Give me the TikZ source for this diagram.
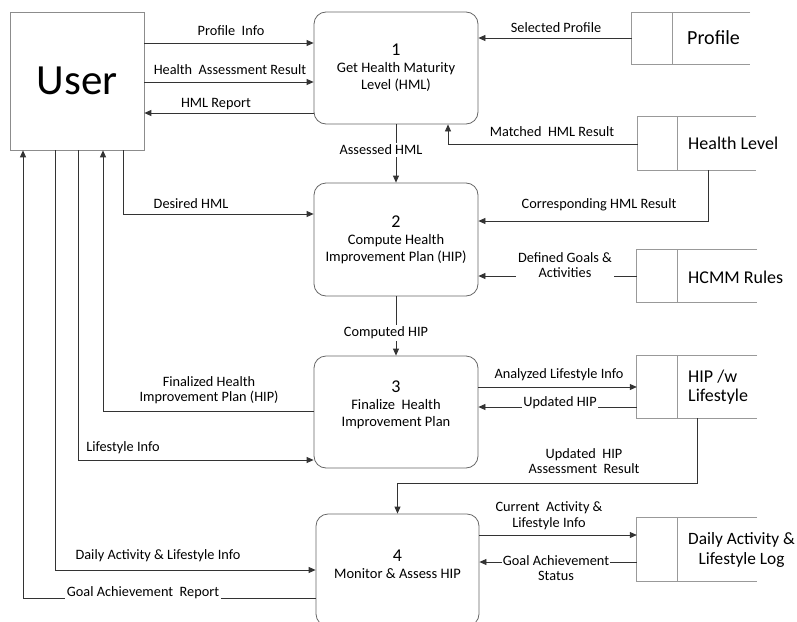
\documentclass[tikz,border=0pt]{standalone}
\usepackage{fontspec}
\setmainfont{Carlito}
\usetikzlibrary{arrows.meta}
\newcommand\pnumfont{\fontsize{18}{21}\selectfont}
\begin{document}
\begin{tikzpicture}[x=1pt,y=-1pt,
 proc/.style={draw=black!60, line width=0.8pt, rounded corners=12pt, minimum width=164pt, minimum height=112pt, inner sep=0pt},
 ent/.style={draw=black!45, line width=0.7pt, minimum width=134pt, minimum height=138pt, inner sep=0pt, font=\fontsize{43}{46}\selectfont},
 store/.style={inner sep=0pt, minimum width=120pt},
 sline/.style={draw=black!40, line width=0.7pt},
 stext/.style={font=\fontsize{18}{21}\selectfont, inner sep=0pt, anchor=west},
 ptext/.style={font=\fontsize{14.5}{17}\selectfont, align=center, inner sep=0pt},
 arr/.style={draw=black!80, line width=0.8pt, -{Triangle[length=7pt,width=6pt]}},
 lbl/.style={font=\fontsize{14.3}{15.5}\selectfont, inner sep=1pt, align=center},
 lblw/.style={lbl, fill=white, inner sep=2pt},
]
\useasboundingbox (0,0) rectangle (797,621);

% entity
\node[ent] (user) at (77,81) {User};

% processes
\node[proc] (p1) at (396,68) {};
\node[proc, minimum height=113pt] (p2) at (396,239.5) {};
\node[proc] (p3) at (396,412) {};
\node[proc, minimum width=163pt] (p4) at (397.5,570) {};
\node[ptext] (t1) at (396,68) {{\pnumfont 1}\\Get Health Maturity\\Level (HML)};
\node[ptext] (t2) at (396,240) {{\pnumfont 2}\\Compute Health\\Improvement Plan (HIP)};
\node[ptext] (t3) at (396,405) {{\pnumfont 3}\\Finalize\ \ Health\\Improvement Plan};
\node[ptext] (t4) at (397.5,564) {{\pnumfont 4}\\Monitor \& Assess HIP};

% data stores
\node[store, minimum width=118pt, minimum height=51pt] (sprof) at (691,38.5) {};
\node[store, minimum width=118pt, minimum height=53pt] (shl) at (697,143.5) {};
\node[store, minimum height=52pt] (shcmm) at (697,276) {};
\node[store, minimum height=62pt] (shipw) at (697,387) {};
\node[store, minimum height=63pt] (sdaily) at (697,549.5) {};
\foreach \s/\d in {sprof/41,shl/40,shcmm/41,shipw/41,sdaily/41}{
  \draw[sline] (\s.north east) -- (\s.north west) -- (\s.south west) -- (\s.south east);
  \draw[sline] ([xshift=\d pt]\s.north west) -- ([xshift=\d pt]\s.south west);
}
\node[stext, font=\fontsize{20}{22}\selectfont] (tprof) at (687,38) {Profile};
\node[stext] (thl) at (688,143) {Health Level};
\node[stext] (thcmm) at (688,277) {HCMM Rules};
\node[stext, align=left, font=\fontsize{18}{19.5}\selectfont] (thipw) at (688,387) {HIP /w\\Lifestyle};
\node[stext, align=center, font=\fontsize{17.3}{19.5}\selectfont] (tdaily) at (688,550) {Daily Activity \&\\Lifestyle Log};

% flows around process 1
\draw[arr] (user.east |- 0,43) -- (p1.west |- 0,43);
\node[lbl] (l1) at (231,31) {Profile\ \ Info};
\draw[arr] (user.east |- 0,82) -- (p1.west |- 0,82);
\node[lbl] (l2) at (230,70) {Health\ \ Assessment Result};
\draw[arr] (p1.west |- 0,113) -- (user.east |- 0,113);
\node[lblw, inner sep=1pt] (l3) at (216,104) {HML Report};
\draw[arr] (sprof.west |- 0,38) -- (p1.east |- 0,38);
\node[lbl] (l4) at (556,28) {Selected Profile};
\draw[arr] (shl.west |- 0,144) -| ([xshift=52pt]p1.south);
\node[lbl] (l5) at (552,132) {Matched\ \ HML Result};

% process 1 -> 2
\draw[arr] (p1.south) -- (p2.north);
\node[lblw] (l6) at (381,150) {Assessed HML};
\draw[arr] ([xshift=11pt]shl.south) |- (p2.east |- 0,221);
\node[lbl] (l7) at (599,205) {Corresponding HML Result};
\draw[arr] ([xshift=46pt]user.south) |- (p2.west |- 0,214);
\node[lbl] (l8) at (191,204) {Desired HML};
\draw[arr] (shcmm.west) -- (p2.east |- shcmm.west);
\node[lblw] (l9) at (565,265) {Defined Goals \&\\Activities};

% process 2 -> 3
\draw[arr] (p2.south) -- (p3.north);
\node[lblw] (l10) at (386,333) {Computed HIP};
\draw[arr] (p3.west |- 0,411) -| ([xshift=26pt]user.south);
\node[lbl] (l11) at (209,390) {Finalized Health\\Improvement Plan (HIP)};
\draw[arr] ([xshift=1pt]user.south) |- (p3.west |- 0,460);
\node[lbl] (l12) at (123,448) {Lifestyle Info};
\draw[arr] (p3.east |- 0,387) -- (shipw.west |- 0,387);
\node[lbl] (l13) at (559,375) {Analyzed Lifestyle Info};
\draw[arr] (shipw.west |- 0,407) -- (p3.east |- 0,407);
\node[lblw, inner sep=1pt] (l14) at (560,403) {Updated HIP};

% process 3 -> 4
\draw[arr] (shipw.south) |- ([yshift=30pt]p4.north) -- (p4.north);
\node[lbl] (l15) at (584,461) {Updated\ \ HIP\\Assessment\ \ Result};
\draw[arr] ([xshift=-22pt]user.south) |- (p4.west |- 0,570);
\node[lbl] (l16) at (158,556) {Daily Activity \& Lifestyle Info};
\draw[arr] (p4.west |- 0,598) -| ([xshift=-54pt]user.south);
\node[lblw, inner sep=1.5pt] (l17) at (143,592.5) {Goal Achievement\ \ Report};
\draw[arr] (p4.east |- 0,535) -- (sdaily.west |- 0,535);
\node[lbl] (l18) at (549,515.5) {Current\ \ Activity \&\\Lifestyle Info};
\draw[arr] (sdaily.west |- 0,562) -- (p4.east |- 0,562);
\node[lblw, inner sep=1pt] (l19) at (556,568) {Goal Achievement\\Status};
\end{tikzpicture}
\end{document}
